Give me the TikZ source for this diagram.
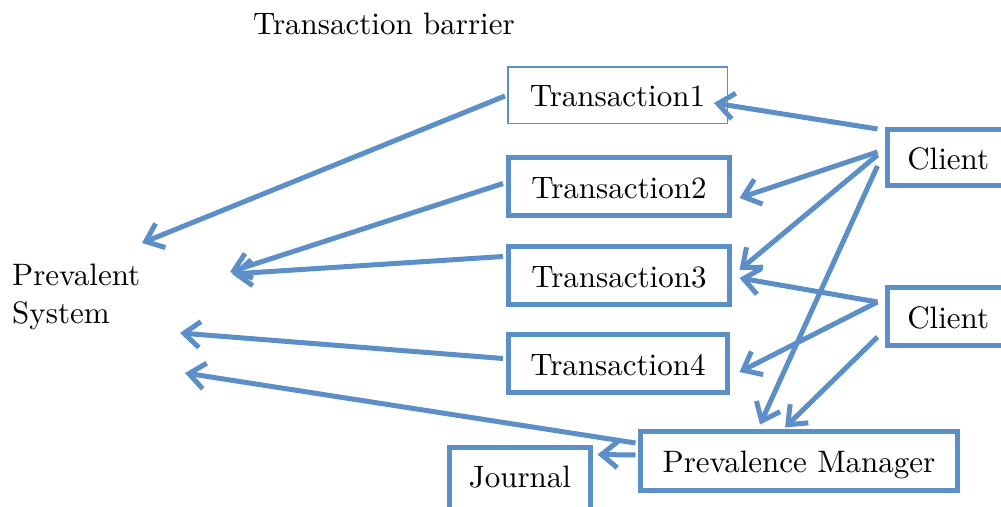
\documentclass[tikz,border=0pt]{standalone}
\usepackage{fontspec}
\setmainfont{lmroman10-regular.otf}
\usetikzlibrary{arrows.meta}
\definecolor{lb}{RGB}{92,142,199}
\begin{document}
\begin{tikzpicture}[x=1pt,y=-1pt,
  txt/.style={font=\fontsize{31}{38}\selectfont, inner sep=0pt},
  box/.style={txt, draw=lb, line width=5pt, text height=23.25pt, text depth=0pt},
  thinbox/.style={box, line width=1.5pt},
  arr/.style={draw=lb, line width=5pt, -{Straight Barb[length=16pt,width=26pt]}}]
\useasboundingbox (0,0) rectangle (1001,506);
\clip (0,0) rectangle (1001,506);
% labels
\node[txt, anchor=base west] (tb) at (253,34) {Transaction barrier};
\node[txt, anchor=base west, align=left] (ps) at (12,323) {Prevalent\\System};
% boxes
\node[thinbox, minimum width=219.5, minimum height=56.5] (t1) at (617.5,95) {Transaction1};
\node[box, minimum width=221, minimum height=58] (t2) at (619,186.5) {Transaction2};
\node[box, minimum width=221, minimum height=58] (t3) at (619,275.5) {Transaction3};
\node[box, minimum width=219, minimum height=58] (t4) at (618,363.5) {Transaction4};
\node[box, minimum width=121.5, minimum height=56] (c1) at (948.25,157.5) {Client};
\node[box, minimum width=121.5, minimum height=58] (c2) at (948.25,316.5) {Client};
\node[box, minimum width=317, minimum height=59] (pm) at (799,461) {Prevalence Manager};
\node[box, minimum width=141, minimum height=70, text depth=14pt] (j) at (520,482.5) {Journal};
% free ends near the Prevalent System label
\coordinate (ps1) at (142,243);
\coordinate (ps2) at (230,272);
\coordinate (ps3) at (232,274);
\coordinate (ps4) at (180,333);
\coordinate (ps5) at (185,373);
% transactions -> prevalent system
\draw[arr] ([shift={(-2,1)}]t1.west) -- (ps1);
\draw[arr] ([shift={(-3,-3)}]t2.west) -- (ps2);
\draw[arr] ([shift={(-3,-19)}]t3.west) -- (ps3);
\draw[arr] ([shift={(-3,-5)}]t4.west) -- (ps4);
\draw[arr] ([shift={(-2.5,-18)}]pm.west) -- (ps5);
% client 1
\draw[arr] ([shift={(-7.5,-28.5)}]c1.west) -- ([shift={(-14,8)}]t1.east);
\draw[arr] ([shift={(-7.5,-5.5)}]c1.west) -- ([shift={(7.5,11.5)}]t2.east);
\draw[arr] ([shift={(-7.5,-2.5)}]c1.west) -- ([shift={(7.5,-5.5)}]t3.east);
\draw[arr] ([shift={(-7.5,8.5)}]c1.west) -- ([shift={(-39,-4.5)}]pm.north);
% client 2
\draw[arr] ([shift={(-7.5,-14.5)}]c2.west) -- ([shift={(7.5,2.5)}]t3.east);
\draw[arr] ([shift={(-7.5,-14.5)}]c2.west) -- ([shift={(9.5,8.5)}]t4.east);
\draw[arr] ([shift={(-7.5,20.5)}]c2.west) -- ([shift={(-14,-1.5)}]pm.north);
% manager -> journal
\draw[arr] ([shift={(-2.5,-6)}]pm.west) -- ([shift={(4.5,9.5)}]j.north east);
\end{tikzpicture}
\end{document}
